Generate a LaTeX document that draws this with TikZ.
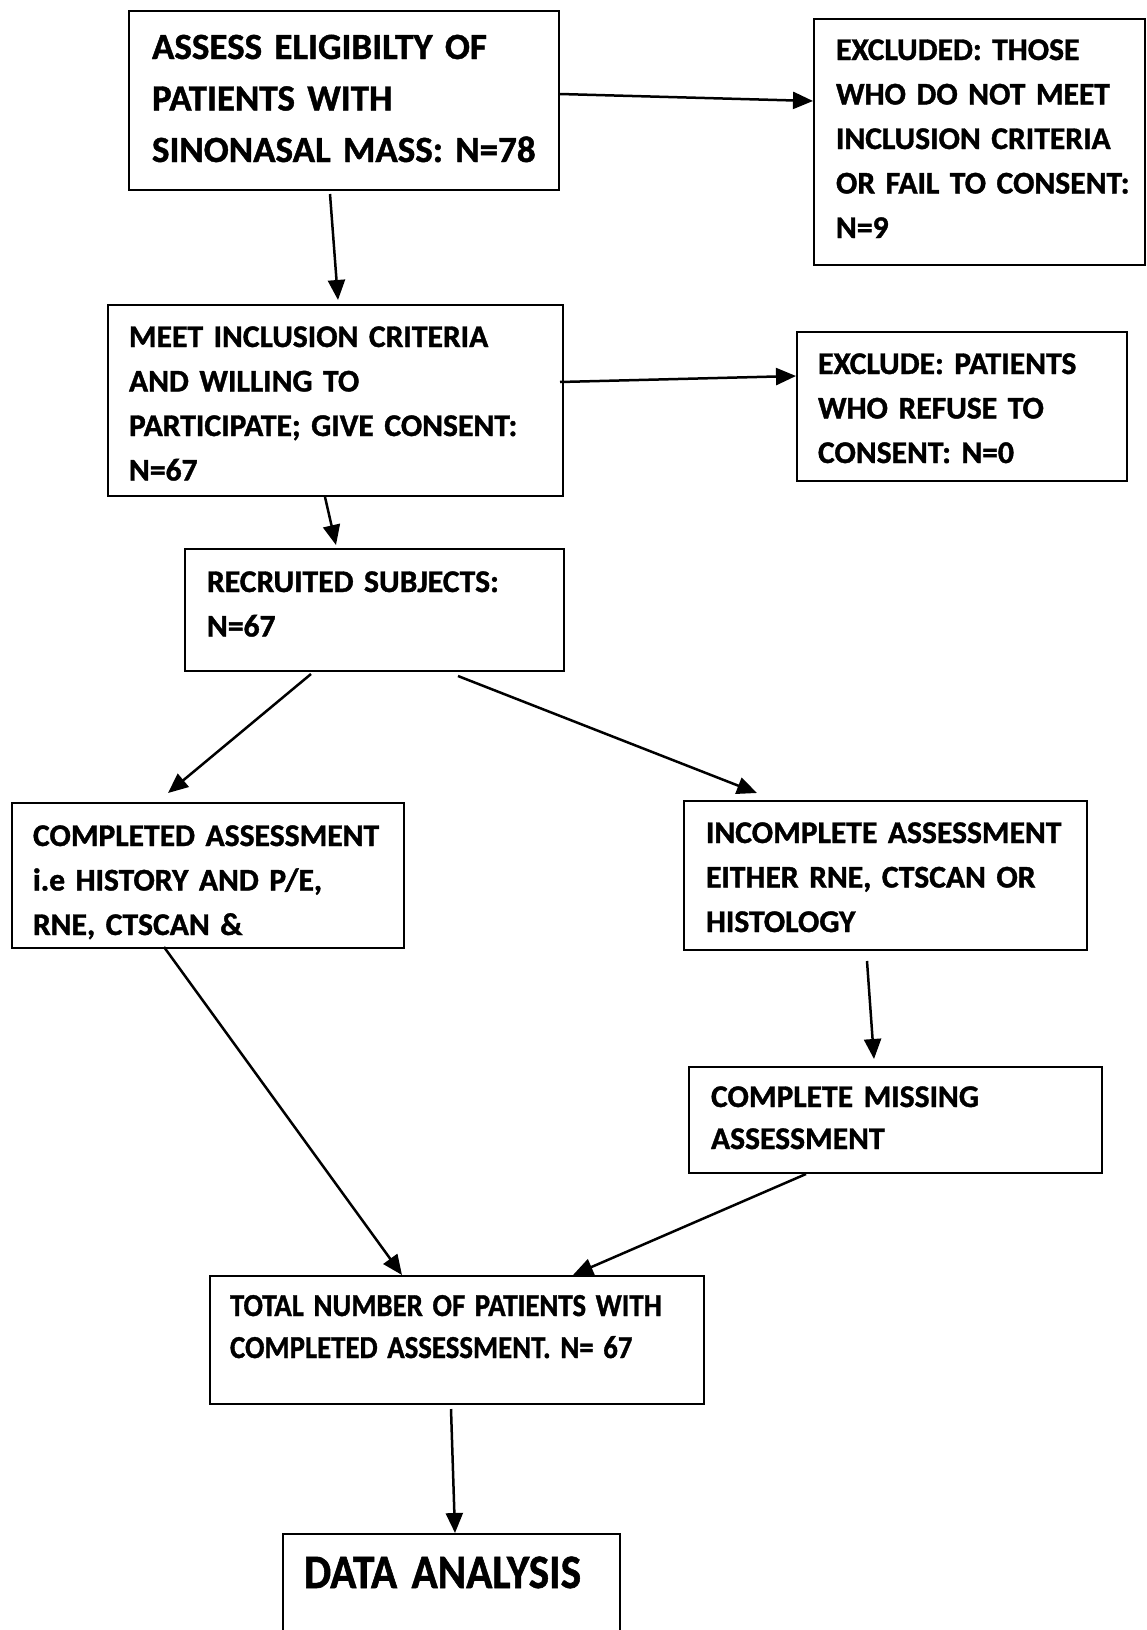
\documentclass[tikz,border=0pt]{standalone}
\usepackage{fontspec}
\setmainfont{Carlito}[BoldFeatures={FakeBold=1.2}]
\usepackage{graphicx}
\usetikzlibrary{arrows.meta}

\begin{document}
\begin{tikzpicture}[
  x=1pt, y=-1pt,
  box/.style={draw, line width=2pt, anchor=north west, inner sep=0pt,
    execute at begin node={\leftskip=#1\hyphenpenalty=10000\relax},
    font=\fontsize{31.6}{44.5}\selectfont\bfseries},
  box/.default=22pt,
  arr/.style={-{Triangle[length=20pt,width=17pt]}, line width=2.5pt}
]
\useasboundingbox (0,0) rectangle (1146,1630);

\node[box=23pt, text width=430pt, text height=48pt, text depth=131pt,
  font=\fontsize{37}{51.5}\selectfont\bfseries] (assess) at (128,10)
  {ASSESS ELIGIBILTY OF\\PATIENTS WITH\\SINONASAL MASS: N=78};
\node[box, text width=331pt, text height=41pt, text depth=205pt] (excl) at (813,18)
  {EXCLUDED: THOSE\\WHO DO NOT MEET\\INCLUSION CRITERIA\\OR FAIL TO CONSENT:\\N=9};
\node[box=21pt, text width=455pt, text height=42pt, text depth=149pt] (meet) at (107,304)
  {MEET INCLUSION CRITERIA\\AND WILLING TO\\PARTICIPATE; GIVE CONSENT:\\N=67};
\node[box=21pt, text width=330pt, text height=42pt, text depth=107pt] (refuse) at (796,331)
  {EXCLUDE: PATIENTS\\WHO REFUSE TO\\CONSENT: N=0};
\node[box, text width=379pt, text height=43pt, text depth=79pt] (recruit) at (184,548)
  {RECRUITED SUBJECTS:\\N=67};
\node[box=21pt, text width=392pt, text height=43pt, text depth=102pt] (compl) at (11,802)
  {COMPLETED ASSESSMENT\\i.e HISTORY AND P/E,\\RNE, CTSCAN \&};
\node[box, text width=403pt, text height=42pt, text depth=107pt] (incompl) at (683,800)
  {INCOMPLETE ASSESSMENT\\EITHER RNE, CTSCAN OR\\HISTOLOGY};
\node[box, text width=413pt, text height=40pt, text depth=66pt,
  font=\fontsize{31.6}{42}\selectfont\bfseries] (missing) at (688,1066)
  {COMPLETE MISSING\\ASSESSMENT};
\node[box=20pt, text width=494pt, text height=40pt, text depth=88pt,
  font=\fontsize{32}{42}\selectfont\bfseries] (total) at (209,1275)
  {\scalebox{0.9}[1]{TOTAL NUMBER OF PATIENTS WITH}\\\scalebox{0.9}[1]{COMPLETED ASSESSMENT. N= 67}};
\node[box=21pt, text width=337pt, text height=54pt, text depth=60pt,
  font=\fontsize{48}{56}\selectfont\bfseries] (data) at (282,1533)
  {\scalebox{0.9}[1]{DATA ANALYSIS}};

\draw[arr] ([yshift=-84]assess.north east) -- ([yshift=-83]excl.north west);
\draw[arr] ([xshift=202,yshift=-3]assess.south west) -- ([xshift=231,yshift=4]meet.north west);
\draw[arr] ([xshift=-4,yshift=-78]meet.north east) -- ([yshift=-45]refuse.north west);
\draw[arr] ([xshift=218]meet.south west) -- ([xshift=152,yshift=3]recruit.north west);
\draw[arr] ([xshift=127,yshift=-2]recruit.south west) -- ([xshift=157,yshift=9]compl.north west);
\draw[arr] ([xshift=274,yshift=-4]recruit.south west) -- ([xshift=74,yshift=7]incompl.north west);
\draw[arr] ([xshift=184,yshift=-10]incompl.south west) -- ([xshift=186,yshift=7]missing.north west);
\draw[arr] ([xshift=153,yshift=2]compl.south west) -- ([xshift=193]total.north west);
\draw[arr] ([xshift=118]missing.south west) -- ([xshift=364]total.north west);
\draw[arr] ([xshift=242,yshift=-4]total.south west) -- ([xshift=173]data.north west);
\end{tikzpicture}
\end{document}
